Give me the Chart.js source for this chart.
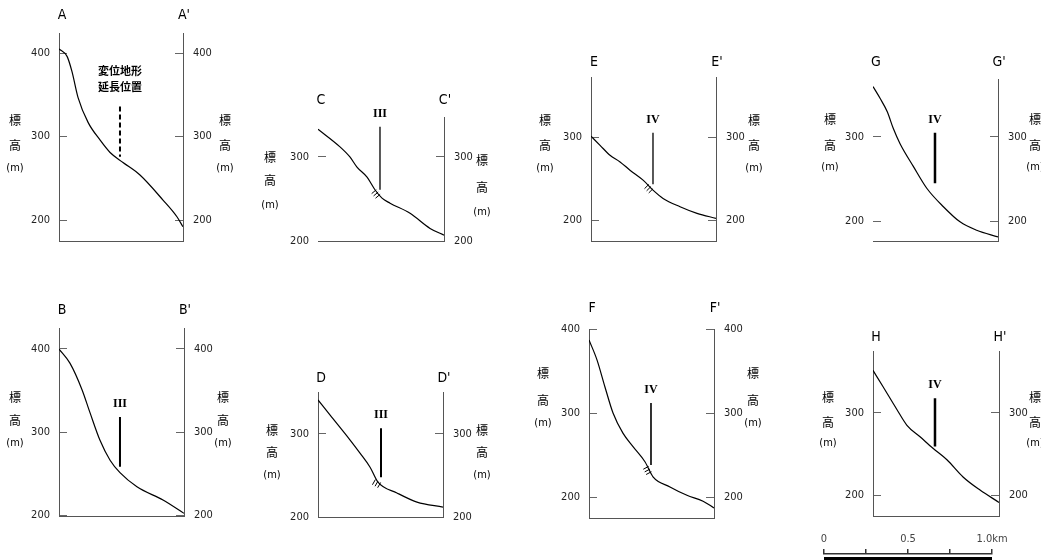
<!DOCTYPE html>
<html lang="ja">
<head>
<meta charset="UTF-8">
<title>地形断面図</title>
<script src="https://cdn.jsdelivr.net/npm/chart.js"></script>
<style>
    html, body { margin: 0; padding: 0; background: #fff; overflow: hidden; }
    body { width: 1041px; height: 560px; position: relative; }
    canvas { position: absolute; }
</style>
</head>
<body>
<script>
// 測線名
const lineNames = ['A', 'B', 'C', 'D', 'E', 'F', 'G', 'H'];

// 各断面の距離 (km) と標高 (m)
const distA = [0, 0.048, 0.077, 0.113, 0.173, 0.244, 0.304, 0.381, 0.482, 0.619, 0.702, 0.738];
const elevA = [405, 396, 378, 347, 317, 296, 281, 269, 254, 224, 204, 192];
const distB = [0, 0.065, 0.137, 0.185, 0.244, 0.304, 0.363, 0.464, 0.619, 0.744];
const elevB = [400, 383, 351, 323, 290, 266, 251, 234, 218, 202];
const distC = [0, 0.131, 0.190, 0.232, 0.292, 0.339, 0.381, 0.429, 0.548, 0.667, 0.750];
const elevC = [333, 312, 300, 288, 276, 261, 251, 245, 233, 215, 207];
const distD = [0, 0.071, 0.190, 0.250, 0.310, 0.357, 0.470, 0.589, 0.744];
const elevD = [341, 323, 293, 277, 260, 242, 229, 218, 212];
const distE = [0, 0.054, 0.113, 0.173, 0.232, 0.310, 0.369, 0.429, 0.530, 0.631, 0.744];
const elevE = [301, 290, 278, 270, 260, 248, 236, 226, 216, 208, 202];
const distF = [0, 0.048, 0.095, 0.143, 0.202, 0.262, 0.333, 0.381, 0.482, 0.583, 0.679, 0.744];
const elevF = [387, 363, 331, 300, 276, 260, 242, 224, 212, 202, 195, 187];
const distG = [0, 0.042, 0.085, 0.121, 0.161, 0.240, 0.320, 0.419, 0.518, 0.617, 0.744];
const elevG = [360, 346, 330, 310, 292, 265, 239, 217, 199, 189, 181];
const distH = [0, 0.060, 0.143, 0.202, 0.280, 0.357, 0.440, 0.536, 0.637, 0.750];
const elevH = [352, 332, 304, 285, 271, 257, 243, 222, 206, 191];

// 変位地形の位置 (km) と線の上端・下端 (m)
const markDist = [0.363, 0.363, 0.369, 0.375, 0.369, 0.369, 0.369, 0.369];
const markTop = [336, 318, 336, 307, 305, 312, 305, 318];
const markBottom = [276, 258, 261, 248, 243, 238, 245, 259];
const markLabels = ['変位地形|延長位置', 'III', 'III', 'III', 'IV', 'IV', 'IV', 'IV'];

// 目盛
const elevTicks = [200, 300, 400];
const scaleKm = [0, 0.25, 0.5, 0.75, 1.0];
const scaleLabels = ['0', '', '0.5', '', '1.0km'];

const profiles = [[distA, elevA], [distB, elevB], [distC, elevC], [distD, elevD],
                  [distE, elevE], [distF, elevF], [distG, elevG], [distH, elevH]];

// 配置 (ページ上のピクセル)
const PX_PER_KM = 168;
const PAD_X = 60, PAD_TOP = 30, PAD_BOTTOM = 6;
const frames = [
    {left: 59, top: 33, right: 183, bottom: 241, yMin: 175, yMax: 424, letterY: 15, lblL: [15, 120, 145, 168], lblR: [225, 120, 145, 168], leftAxis: true, hatch: false, markWidth: 2},
    {left: 59, top: 328, right: 184, bottom: 516, yMin: 198.8, yMax: 425.3, letterY: 310, lblL: [15, 397, 420, 443], lblR: [223, 397, 420, 443], leftAxis: true, hatch: false, markWidth: 2},
    {left: 318, top: 117, right: 444, bottom: 241, yMin: 200, yMax: 347.6, letterY: 100, lblL: [270, 157, 180, 205], lblR: [482, 160, 187, 212], leftAxis: false, hatch: true, markWidth: 1.3},
    {left: 318, top: 392, right: 443, bottom: 517, yMin: 200, yMax: 350.6, letterY: 378, lblL: [272, 430, 452, 475], lblR: [482, 430, 452, 475], leftAxis: true, hatch: true, markWidth: 2},
    {left: 591, top: 77, right: 716, bottom: 241, yMin: 174.7, yMax: 372.3, letterY: 62, lblL: [545, 120, 145, 168], lblR: [754, 120, 145, 168], leftAxis: true, hatch: true, markWidth: 1.3},
    {left: 589, top: 329, right: 714, bottom: 518, yMin: 175, yMax: 400, letterY: 308, lblL: [543, 373, 400, 423], lblR: [753, 373, 400, 423], leftAxis: true, hatch: true, markWidth: 1.6},
    {left: 873, top: 79, right: 998, bottom: 241, yMin: 176.2, yMax: 369, letterY: 62, lblL: [830, 119, 145, 167], lblR: [1035, 119, 145, 167], leftAxis: false, hatch: false, markWidth: 2.5},
    {left: 873, top: 351, right: 999, bottom: 516, yMin: 174.4, yMax: 375.6, letterY: 337, lblL: [828, 397, 422, 443], lblR: [1035, 397, 422, 443], leftAxis: true, hatch: false, markWidth: 2.5}
];

const NARROW = "'Liberation Sans Narrow', 'DejaVu Sans Condensed', 'Liberation Sans', sans-serif";
const LETTER_FONT = "14px " + NARROW;
const CJK_FONT = "12px 'Noto Sans CJK JP', sans-serif";
const CJK_BOLD = "bold 11px 'Noto Sans CJK JP', sans-serif";
const PAREN_FONT = "11px " + NARROW;
const ROMAN_FONT = "bold 12px 'Liberation Serif', 'DejaVu Serif', serif";
const AXIS_COLOR = '#555';
const TICK_COLOR = '#666';

function yAxis(position, f) {
    return {
        type: 'linear',
        position: position,
        min: f.yMin,
        max: f.yMax,
        afterBuildTicks: s => {
            s.ticks = elevTicks.filter(v => v >= f.yMin && v <= f.yMax).map(v => ({value: v}));
        },
        afterFit: s => {
            s.width = PAD_X;
            s.paddingTop = 0;
            s.paddingBottom = 0;
        },
        grid: { drawOnChartArea: false, tickLength: -8, color: TICK_COLOR, lineWidth: 1 },
        border: { display: position === 'right' || f.leftAxis, color: AXIS_COLOR },
        ticks: { padding: position === 'left' ? 17 : 18, color: '#222', font: { family: NARROW, size: 11 } }
    };
}

function labelPlugin(i, f) {
    const ox = f.left - PAD_X, oy = f.top - PAD_TOP;
    return {
        id: 'labels' + i,
        afterDatasetsDraw(chart) {
            const ctx = chart.ctx;
            const xs = chart.scales.x, ys = chart.scales.y;
            const area = chart.chartArea;
            const name = lineNames[i];
            ctx.save();
            ctx.fillStyle = '#000';
            ctx.textAlign = 'center';
            ctx.textBaseline = 'middle';

            ctx.font = LETTER_FONT;
            ctx.fillText(name, area.left + 3, f.letterY - oy);
            ctx.fillText(name + "'", area.right + 1, f.letterY - oy);

            // 標高 (m) を縦に並べる
            const parts = ['標', '高', '(m)'];
            [f.lblL, f.lblR].forEach(l => {
                parts.forEach((t, k) => {
                    ctx.font = k === 2 ? PAREN_FONT : CJK_FONT;
                    ctx.fillText(t, l[0] - ox, l[k + 1] - oy);
                });
            });

            const mx = xs.getPixelForValue(markDist[i]);
            const my = ys.getPixelForValue(markTop[i]);
            const label = markLabels[i];
            if (label.indexOf('|') >= 0) {
                ctx.font = CJK_BOLD;
                label.split('|').forEach((t, k) => ctx.fillText(t, mx, my - 36 + k * 16));
            } else {
                ctx.font = ROMAN_FONT;
                ctx.fillText(label, mx, my - 13);
            }

            // 断層記号 (短い斜線)
            if (f.hatch) {
                const pts = chart.getDatasetMeta(0).data;
                let k = 0;
                while (k < pts.length - 2 && pts[k + 1].x < mx) k++;
                const p0 = pts[k], p1 = pts[k + 1];
                const dx = p1.x - p0.x, dy = p1.y - p0.y;
                const len = Math.hypot(dx, dy);
                const tx = dx / len, ty = dy / len;
                const cy = p0.y + (mx - p0.x) / dx * dy;
                ctx.strokeStyle = '#000';
                ctx.lineWidth = 1;
                [-7, -4, -1].forEach(s => {
                    const bx = mx + tx * s, by = cy + ty * s;
                    ctx.beginPath();
                    ctx.moveTo(bx + ty * 1, by - tx * 1);
                    ctx.lineTo(bx - ty * 5, by + tx * 5);
                    ctx.stroke();
                });
            }
            ctx.restore();
        }
    };
}

frames.forEach((f, i) => {
    const canvas = document.createElement('canvas');
    canvas.width = f.right - f.left + PAD_X * 2;
    canvas.height = f.bottom - f.top + PAD_TOP + PAD_BOTTOM;
    canvas.style.left = (f.left - PAD_X) + 'px';
    canvas.style.top = (f.top - PAD_TOP) + 'px';
    document.body.appendChild(canvas);

    const dist = profiles[i][0], elev = profiles[i][1];
    new Chart(canvas, {
        type: 'line',
        data: {
            datasets: [
                {
                    data: dist.map((d, k) => ({x: d, y: elev[k]})),
                    borderColor: '#000',
                    borderWidth: 1.2,
                    pointRadius: 0,
                    cubicInterpolationMode: 'monotone'
                },
                {
                    data: [{x: markDist[i], y: markTop[i]}, {x: markDist[i], y: markBottom[i]}],
                    borderColor: '#000',
                    borderWidth: f.markWidth,
                    borderDash: i === 0 ? [5, 3] : [],
                    pointRadius: 0
                }
            ]
        },
        options: {
            responsive: false,
            animation: false,
            layout: { padding: { top: PAD_TOP, bottom: PAD_BOTTOM, left: 0, right: 0 } },
            plugins: { legend: { display: false }, tooltip: { enabled: false } },
            scales: {
                x: {
                    type: 'linear',
                    min: 0,
                    max: (f.right - f.left) / PX_PER_KM,
                    ticks: { display: false },
                    grid: { display: false },
                    border: { color: AXIS_COLOR },
                    afterFit: s => { s.height = 0; s.paddingLeft = 0; s.paddingRight = 0; }
                },
                y: yAxis('left', f),
                y2: yAxis('right', f)
            }
        },
        plugins: [labelPlugin(i, f)]
    });
});

// スケールバー
const sb = document.createElement('canvas');
sb.width = 215;
sb.height = 32;
sb.style.left = '800px';
sb.style.top = '528px';
document.body.appendChild(sb);
new Chart(sb, {
    type: 'line',
    data: {
        datasets: [{
            data: [{x: scaleKm[0], y: 0.25}, {x: scaleKm[scaleKm.length - 1], y: 0.25}],
            borderColor: '#000',
            borderWidth: 3,
            pointRadius: 0
        }]
    },
    options: {
        responsive: false,
        animation: false,
        layout: { padding: { left: 24, right: 23, top: 0, bottom: 0 } },
        plugins: { legend: { display: false }, tooltip: { enabled: false } },
        scales: {
            x: {
                type: 'linear',
                position: 'top',
                min: 0,
                max: 1,
                afterBuildTicks: s => { s.ticks = scaleKm.map(v => ({value: v})); },
                afterFit: s => { s.height = 26; },
                grid: { drawOnChartArea: false, tickLength: 5, color: '#333', lineWidth: 1.5 },
                border: { color: '#333', width: 1.5 },
                ticks: {
                    padding: 3,
                    color: '#444',
                    autoSkip: false,
                    maxRotation: 0,
                    font: { family: NARROW, size: 11 },
                    callback: (v, k) => scaleLabels[k]
                }
            },
            y: { display: false, min: 0, max: 1 }
        }
    }
});
</script>
</body>
</html>
